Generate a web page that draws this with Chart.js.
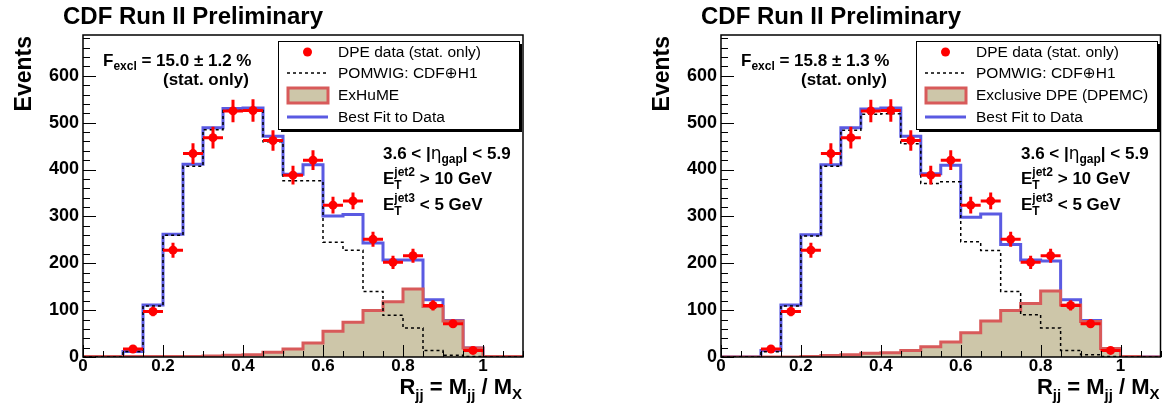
<!DOCTYPE html>
<html>
<head>
<meta charset="utf-8">
<script src="https://cdn.jsdelivr.net/npm/chart.js@4.4.0/dist/chart.umd.min.js"></script>
<style>
  html, body { margin: 0; padding: 0; background: #fff; }
  #wrap { position: relative; width: 1165px; height: 414px; overflow: hidden; }
  canvas { position: absolute; top: 0; }
</style>
</head>
<body>
<div id="wrap">
  <canvas id="leftChart" width="582" height="414" style="left:0"></canvas>
  <canvas id="rightChart" width="583" height="414" style="left:582px"></canvas>
</div>
<script>
// histogram bin edges (22 bins of 0.05)
const binEdges = [0, 0.05, 0.1, 0.15, 0.2, 0.25, 0.3, 0.35, 0.4, 0.45, 0.5, 0.55,
                  0.6, 0.65, 0.7, 0.75, 0.8, 0.85, 0.9, 0.95, 1.0, 1.05, 1.1];

// left panel (ExHuME)
const bestFitL = [0, 0, 12, 111, 262, 411, 489, 530, 531, 471, 390, 410, 301, 304, 243, 207, 207, 122, 78, 19, 1, 0];
const pomwigL  = [0, 0, 12, 109, 260, 407, 485, 526, 526, 459, 376, 376, 245, 228, 140, 89, 62, 14, 4, 1, 0, 0];
const exhumeL  = [1, 1, 1, 1, 1, 1, 2, 4, 5, 10, 17, 30, 55, 74, 99, 118, 145, 108, 77, 19, 1, 1];

// right panel (DPEMC)
const bestFitR = [0, 0, 14, 111, 261, 410, 489, 529, 531, 471, 391, 409, 298, 305, 240, 207, 205, 122, 78, 18, 1, 0];
const pomwigR  = [0, 0, 11, 109, 258, 407, 484, 518, 519, 455, 370, 374, 246, 227, 140, 90, 62, 14, 5, 1, 0, 0];
const dpemcR   = [0, 0, 0, 0, 1, 3, 5, 8, 9, 14, 22, 32, 52, 77, 99, 114, 141, 111, 76, 18, 1, 0];

// DPE data (same in both panels)
const dataX   = [0.125, 0.175, 0.225, 0.275, 0.325, 0.375, 0.425, 0.475, 0.525, 0.575,
                 0.625, 0.675, 0.725, 0.775, 0.825, 0.875, 0.925, 0.975];
const dataY   = [17, 97, 228, 434, 468, 525, 526, 462, 388, 420, 324, 333, 251, 202, 216, 110, 71, 14];
const dataErr = [5, 10, 16, 22, 23, 24, 24, 22, 20, 21, 18, 18, 16, 14, 15, 11, 9, 4];

const xTickLabels = [0, 0.2, 0.4, 0.6, 0.8, 1];
const yTickLabels = [0, 100, 200, 300, 400, 500, 600];

const FONT = '"Liberation Sans", Arial, Helvetica, sans-serif';
const FILL_TAN = '#cdc6a9';
const EXCL_RED = '#d85a5a';
const FIT_BLUE = '#5a5ae2';

function font(size, bold) {
  return (bold ? 'bold ' : '') + size + 'px ' + FONT;
}

function histPoints(vals) {
  return binEdges.map((e, i) => ({ x: e, y: vals[Math.min(i, vals.length - 1)] }));
}

// draws a row of text pieces; returns total width
function rich(ctx, x, y, parts, draw = true) {
  let cx = x;
  for (const p of parts) {
    if (p.stack) {
      ctx.font = font(p.size, true);
      const w = Math.max(ctx.measureText(p.sup).width, ctx.measureText(p.sub).width);
      if (draw) {
        ctx.fillText(p.sup, cx, y - p.up);
        ctx.fillText(p.sub, cx, y + p.down);
      }
      cx += w;
    } else {
      ctx.font = p.family ? (p.size + 'px ' + p.family) : font(p.size, p.bold !== false);
      if (draw) ctx.fillText(p.t, cx, y + (p.dy || 0));
      cx += ctx.measureText(p.t).width;
    }
  }
  return cx - x;
}

const decorPlugin = {
  id: 'decor',
  afterDatasetsDraw(chart) {
    const { ctx, scales: { x, y } } = chart;
    ctx.save();
    ctx.strokeStyle = '#ff0000';
    ctx.lineWidth = 3;
    dataX.forEach((v, i) => {
      const px = x.getPixelForValue(v), py = y.getPixelForValue(dataY[i]);
      ctx.beginPath();
      ctx.moveTo(x.getPixelForValue(v - 0.025), py);
      ctx.lineTo(x.getPixelForValue(v + 0.025), py);
      ctx.moveTo(px, y.getPixelForValue(dataY[i] - dataErr[i]));
      ctx.lineTo(px, y.getPixelForValue(dataY[i] + dataErr[i]));
      ctx.stroke();
    });
    ctx.restore();
  },
  afterDraw(chart, args, opts) {
    const { ctx, chartArea: a, scales: { x, y } } = chart;
    const L = a.left;
    ctx.save();
    ctx.fillStyle = '#000';
    ctx.strokeStyle = '#000';

    // frame
    ctx.lineWidth = 1.5;
    ctx.strokeRect(a.left, a.top, a.right - a.left, a.bottom - a.top);

    // inward ticks
    ctx.lineWidth = 1;
    ctx.beginPath();
    for (let i = 0; i <= 22; i++) {
      const v = i * 0.05;
      const px = Math.round(x.getPixelForValue(v)) + 0.5;
      const len = (i % 4 === 0) ? 12 : 6;
      ctx.moveTo(px, a.bottom);
      ctx.lineTo(px, a.bottom - len);
    }
    for (let v = 0; v <= 680; v += 20) {
      const py = Math.round(y.getPixelForValue(v)) + 0.5;
      const len = (v % 100 === 0) ? 13 : 7;
      ctx.moveTo(a.left, py);
      ctx.lineTo(a.left + len, py);
    }
    ctx.stroke();

    ctx.textBaseline = 'alphabetic';
    ctx.textAlign = 'left';

    // title
    ctx.font = font(24, true);
    ctx.fillText('CDF Run II Preliminary', L - 20, 24);

    // y title
    ctx.save();
    ctx.translate(L - 52, 36);
    ctx.rotate(-Math.PI / 2);
    ctx.textAlign = 'right';
    ctx.font = font(23, true);
    ctx.fillText('Events', 0, 0);
    ctx.restore();

    // x title, right aligned
    const xt = [
      { t: 'R', size: 22 }, { t: 'jj', size: 15, dy: 6 },
      { t: ' = M', size: 22 }, { t: 'jj', size: 15, dy: 6 },
      { t: ' / M', size: 22 }, { t: 'X', size: 15, dy: 5 }
    ];
    const wx = rich(ctx, 0, 0, xt, false);
    rich(ctx, a.right - 1 - wx, 394, xt);

    // fraction
    rich(ctx, L + 20, 66, [
      { t: 'F', size: 17 }, { t: 'excl', size: 12, dy: 4 },
      { t: ' = ' + opts.frac + ' \u00b1 ' + opts.fracErr + ' %', size: 17 }
    ]);
    ctx.font = font(17, true);
    ctx.fillText('(stat. only)', L + 80, 85);

    // cuts
    rich(ctx, L + 300, 159, [
      { t: '3.6 < |', size: 17 }, { t: '\u03b7', size: 17, family: '"DejaVu Sans", sans-serif' },
      { t: 'gap', size: 12, dy: 4 }, { t: '| < 5.9', size: 17 }
    ]);
    rich(ctx, L + 300, 184, [
      { t: 'E', size: 17 }, { stack: true, sup: 'jet2', sub: 'T', size: 12, up: 8, down: 5 },
      { t: ' > 10 GeV', size: 17 }
    ]);
    rich(ctx, L + 300, 210, [
      { t: 'E', size: 17 }, { stack: true, sup: 'jet3', sub: 'T', size: 12, up: 8, down: 5 },
      { t: ' < 5 GeV', size: 17 }
    ]);

    // legend box
    const bx = L + 195, by = 41, bw = 241, bh = 88;
    ctx.fillRect(bx + bw, by + 3, 3, bh);
    ctx.fillRect(bx + 3, by + bh, bw, 3);
    ctx.fillStyle = '#fff';
    ctx.fillRect(bx, by, bw, bh);
    ctx.fillStyle = '#000';
    ctx.lineWidth = 1;
    ctx.strokeRect(bx + 0.5, by + 0.5, bw, bh);

    const rows = [52, 73, 95, 117];
    const labels = ['DPE data (stat. only)', 'POMWIG: CDF\u2295H1', opts.exclLabel, 'Best Fit to Data'];
    // markers
    ctx.fillStyle = '#ff0000';
    ctx.beginPath();
    ctx.arc(L + 224.5, rows[0], 4.5, 0, Math.PI * 2);
    ctx.fill();

    ctx.strokeStyle = '#000';
    ctx.lineWidth = 1.5;
    ctx.setLineDash([3, 3]);
    ctx.beginPath();
    ctx.moveTo(L + 204, rows[1]);
    ctx.lineTo(L + 245, rows[1]);
    ctx.stroke();
    ctx.setLineDash([]);

    ctx.fillStyle = FILL_TAN;
    ctx.fillRect(L + 205, rows[2] - 7, 40, 15);
    ctx.strokeStyle = EXCL_RED;
    ctx.lineWidth = 3;
    ctx.strokeRect(L + 205, rows[2] - 7, 40, 15);

    ctx.strokeStyle = FIT_BLUE;
    ctx.beginPath();
    ctx.moveTo(L + 204, rows[3]);
    ctx.lineTo(L + 245, rows[3]);
    ctx.stroke();

    ctx.fillStyle = '#000';
    ctx.font = '15.5px ' + FONT + ', "DejaVu Sans"';
    ctx.textBaseline = 'middle';
    labels.forEach((t, i) => ctx.fillText(t, L + 255, rows[i] + 1));

    ctx.restore();
  }
};

function makeChart(id, panel) {
  const yFont = { family: FONT, size: 18, weight: 'bold' };
  const xFont = { family: FONT, size: 17, weight: 'bold', lineHeight: 1 };
  return new Chart(document.getElementById(id), {
    type: 'line',
    data: {
      datasets: [
        {
          label: 'DPE data', type: 'scatter',
          data: dataX.map((v, i) => ({ x: v, y: dataY[i] })),
          showLine: false, pointRadius: 4.5, pointBackgroundColor: '#ff0000',
          pointBorderWidth: 0
        },
        {
          label: 'POMWIG', data: histPoints(panel.pomwig), stepped: true,
          borderColor: '#000', borderWidth: 1.5, borderDash: [3, 3],
          pointRadius: 0, fill: false
        },
        {
          label: panel.exclLabel, data: histPoints(panel.excl), stepped: true,
          borderColor: EXCL_RED, borderWidth: 3, backgroundColor: FILL_TAN,
          pointRadius: 0, fill: 'origin'
        },
        {
          label: 'Best Fit', data: histPoints(panel.fit), stepped: true,
          borderColor: FIT_BLUE, borderWidth: 3, pointRadius: 0, fill: false
        }
      ]
    },
    options: {
      responsive: false,
      animation: false,
      layout: { padding: { top: 35, right: panel.padRight, left: 0, bottom: 0 } },
      plugins: {
        legend: { display: false },
        tooltip: { enabled: false },
        decor: { frac: panel.frac, fracErr: panel.fracErr, exclLabel: panel.exclLabel }
      },
      scales: {
        x: {
          type: 'linear', min: 0, max: 1.1,
          grid: { display: false, drawTicks: false }, border: { display: false },
          afterBuildTicks: s => { s.ticks = xTickLabels.map(v => ({ value: v })); },
          afterFit: s => { s.height = 57; },
          ticks: { font: xFont, color: '#000', padding: 1, maxRotation: 0, autoSkip: false,
                   callback: v => String(v) }
        },
        y: {
          type: 'linear', min: 0, max: 687,
          grid: { display: false, drawTicks: false }, border: { display: false },
          afterBuildTicks: s => { s.ticks = yTickLabels.map(v => ({ value: v })); },
          afterFit: s => { s.width = panel.axisWidth; },
          ticks: { font: yFont, color: '#000', padding: 4, autoSkip: false }
        }
      }
    },
    plugins: [decorPlugin]
  });
}

makeChart('leftChart', {
  fit: bestFitL, pomwig: pomwigL, excl: exhumeL, exclLabel: 'ExHuME',
  frac: '15.0', fracErr: '1.2', axisWidth: 83, padRight: 59
});
makeChart('rightChart', {
  fit: bestFitR, pomwig: pomwigR, excl: dpemcR, exclLabel: 'Exclusive DPE (DPEMC)',
  frac: '15.8', fracErr: '1.3', axisWidth: 139, padRight: 4
});
</script>
</body>
</html>
